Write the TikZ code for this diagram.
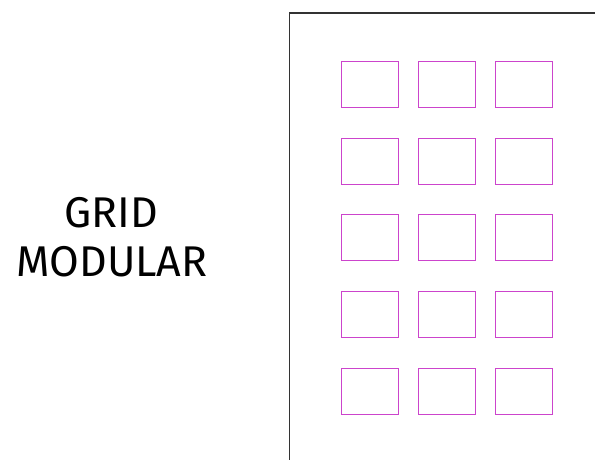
\documentclass[tikz,border=0pt]{standalone}
\usepackage{fontspec}
\setmainfont{Fira Sans}
\usepackage{tikz}

\definecolor{gridpink}{HTML}{CC44CC}
\definecolor{pageline}{HTML}{333333}

\begin{document}
\begin{tikzpicture}[x=1pt,y=-1pt,
  cell/.style={draw=gridpink, line width=1pt, minimum width=57pt,
    minimum height=46pt, inner sep=0pt, anchor=north west},
  title/.style={anchor=base, inner sep=0pt, font=\fontsize{43}{49}\selectfont}]
  \useasboundingbox (0,0) rectangle (595,460);
  \node[title] (grid) at (111,227) {GRID};
  \node[title] (modular) at (112,276) {MODULAR};
  \draw[pageline, line width=1.5pt] (289.5,470) |- (605,13);
  \foreach \r in {0,...,4}
    \foreach \c in {0,1,2}
      \node[cell] (cell-\r-\c) at (341+77*\c, 61+76.7*\r) {};
\end{tikzpicture}
\end{document}
